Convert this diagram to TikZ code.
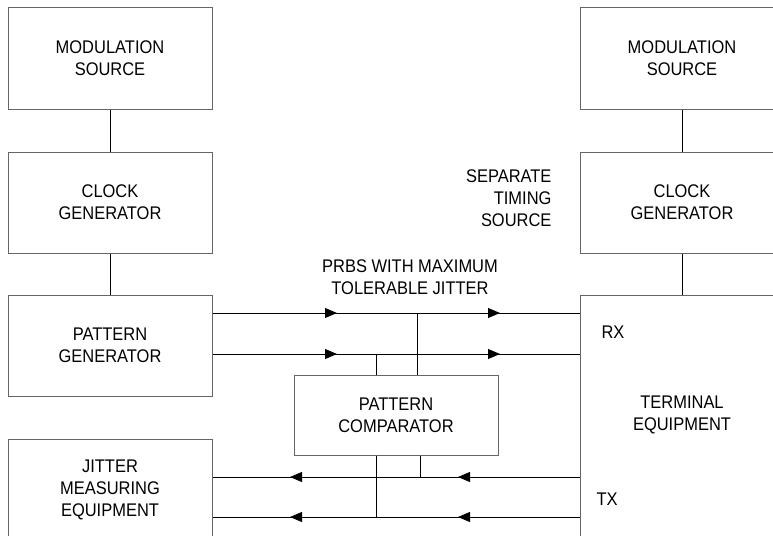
\documentclass[tikz,border=0pt]{standalone}
\usepackage{fontspec}
\setmainfont[FakeStretch=0.9]{Liberation Sans}
\usetikzlibrary{positioning,arrows.meta}
\tikzset{
    blockbox/.style={
        draw=black!60,line width=1pt,minimum width=204pt,minimum height=101pt,align=center,inner sep=0pt
    },
    sigline/.style={
        line width=0.9pt
    }
}

\begin{document}
\begin{tikzpicture}[x=1pt,y=-1pt,>={Triangle[length=12pt,width=10pt]},font=\fontsize{18.3}{22}\selectfont]
\useasboundingbox (0,0) rectangle (773,535);
\clip (0,0) rectangle (773,535);
% left column
\node[blockbox] (lms) at (110,58.5) {MODULATION\\SOURCE};
\node[blockbox,below=42pt of lms] (lcg) {CLOCK\\GENERATOR};
\node[blockbox,below=41pt of lcg] (pg) {PATTERN\\GENERATOR};
\node[blockbox,below=42pt of pg] (jme) {JITTER\\MEASURING\\EQUIPMENT};
% right column
\node[blockbox] (rms) at (682,58.5) {MODULATION\\SOURCE};
\node[blockbox,below=42pt of rms] (rcg) {CLOCK\\GENERATOR};
\node[blockbox,below=41pt of rcg,minimum height=260pt,
    label={[align=center,yshift=10pt]center:TERMINAL\\EQUIPMENT}] (te) {};
\node[blockbox,minimum height=80pt] (cmp) at (396,415) {PATTERN\\COMPARATOR};
% texts
\node[align=center] (prbs) at (410,277) {PRBS WITH MAXIMUM\\TOLERABLE JITTER};
\node[align=right,anchor=east] (sts) at (555,198) {SEPARATE\\TIMING\\SOURCE};
\node[anchor=west] (rx) at (598,332) {RX};
\node[anchor=west] (tx) at (593,499) {TX};
% levels and taps
\coordinate (rx1) at (0,313);
\coordinate (rx2) at (0,354);
\coordinate (tx1) at (0,477);
\coordinate (tx2) at (0,517);
\coordinate (tapa) at (417,0);
\coordinate (tapb) at (376,0);
\coordinate (tapc) at (420,0);
\draw[sigline] (lms) -- (lcg);
\draw[sigline] (lcg) -- (pg);
\draw[sigline] (rms) -- (rcg);
\draw[sigline] (rcg) -- (te);
\draw[sigline] (pg.east |- rx1) -- (te.west |- rx1);
\draw[sigline] (pg.east |- rx2) -- (te.west |- rx2);
\draw[sigline] (jme.east |- tx1) -- (te.west |- tx1);
\draw[sigline] (jme.east |- tx2) -- (te.west |- tx2);
\draw[sigline,->] (294,313) -- (337,313);
\draw[sigline,->] (305,354) -- (337,354);
\draw[sigline,->] (457,313) -- (500,313);
\draw[sigline,->] (457,354) -- (500,354);
\draw[sigline,->] (333,477) -- (290,477);
\draw[sigline,->] (320,517) -- (290,517);
\draw[sigline,->] (500,477) -- (458,477);
\draw[sigline,->] (490,517) -- (458,517);
\draw[sigline] (tapa |- rx1) -- (cmp.north -| tapa);
\draw[sigline] (tapb |- rx2) -- (cmp.north -| tapb);
\draw[sigline] (cmp.south -| tapb) -- (tapb |- tx2);
\draw[sigline] (cmp.south -| tapc) -- (tapc |- tx1);
\end{tikzpicture}
\end{document}
